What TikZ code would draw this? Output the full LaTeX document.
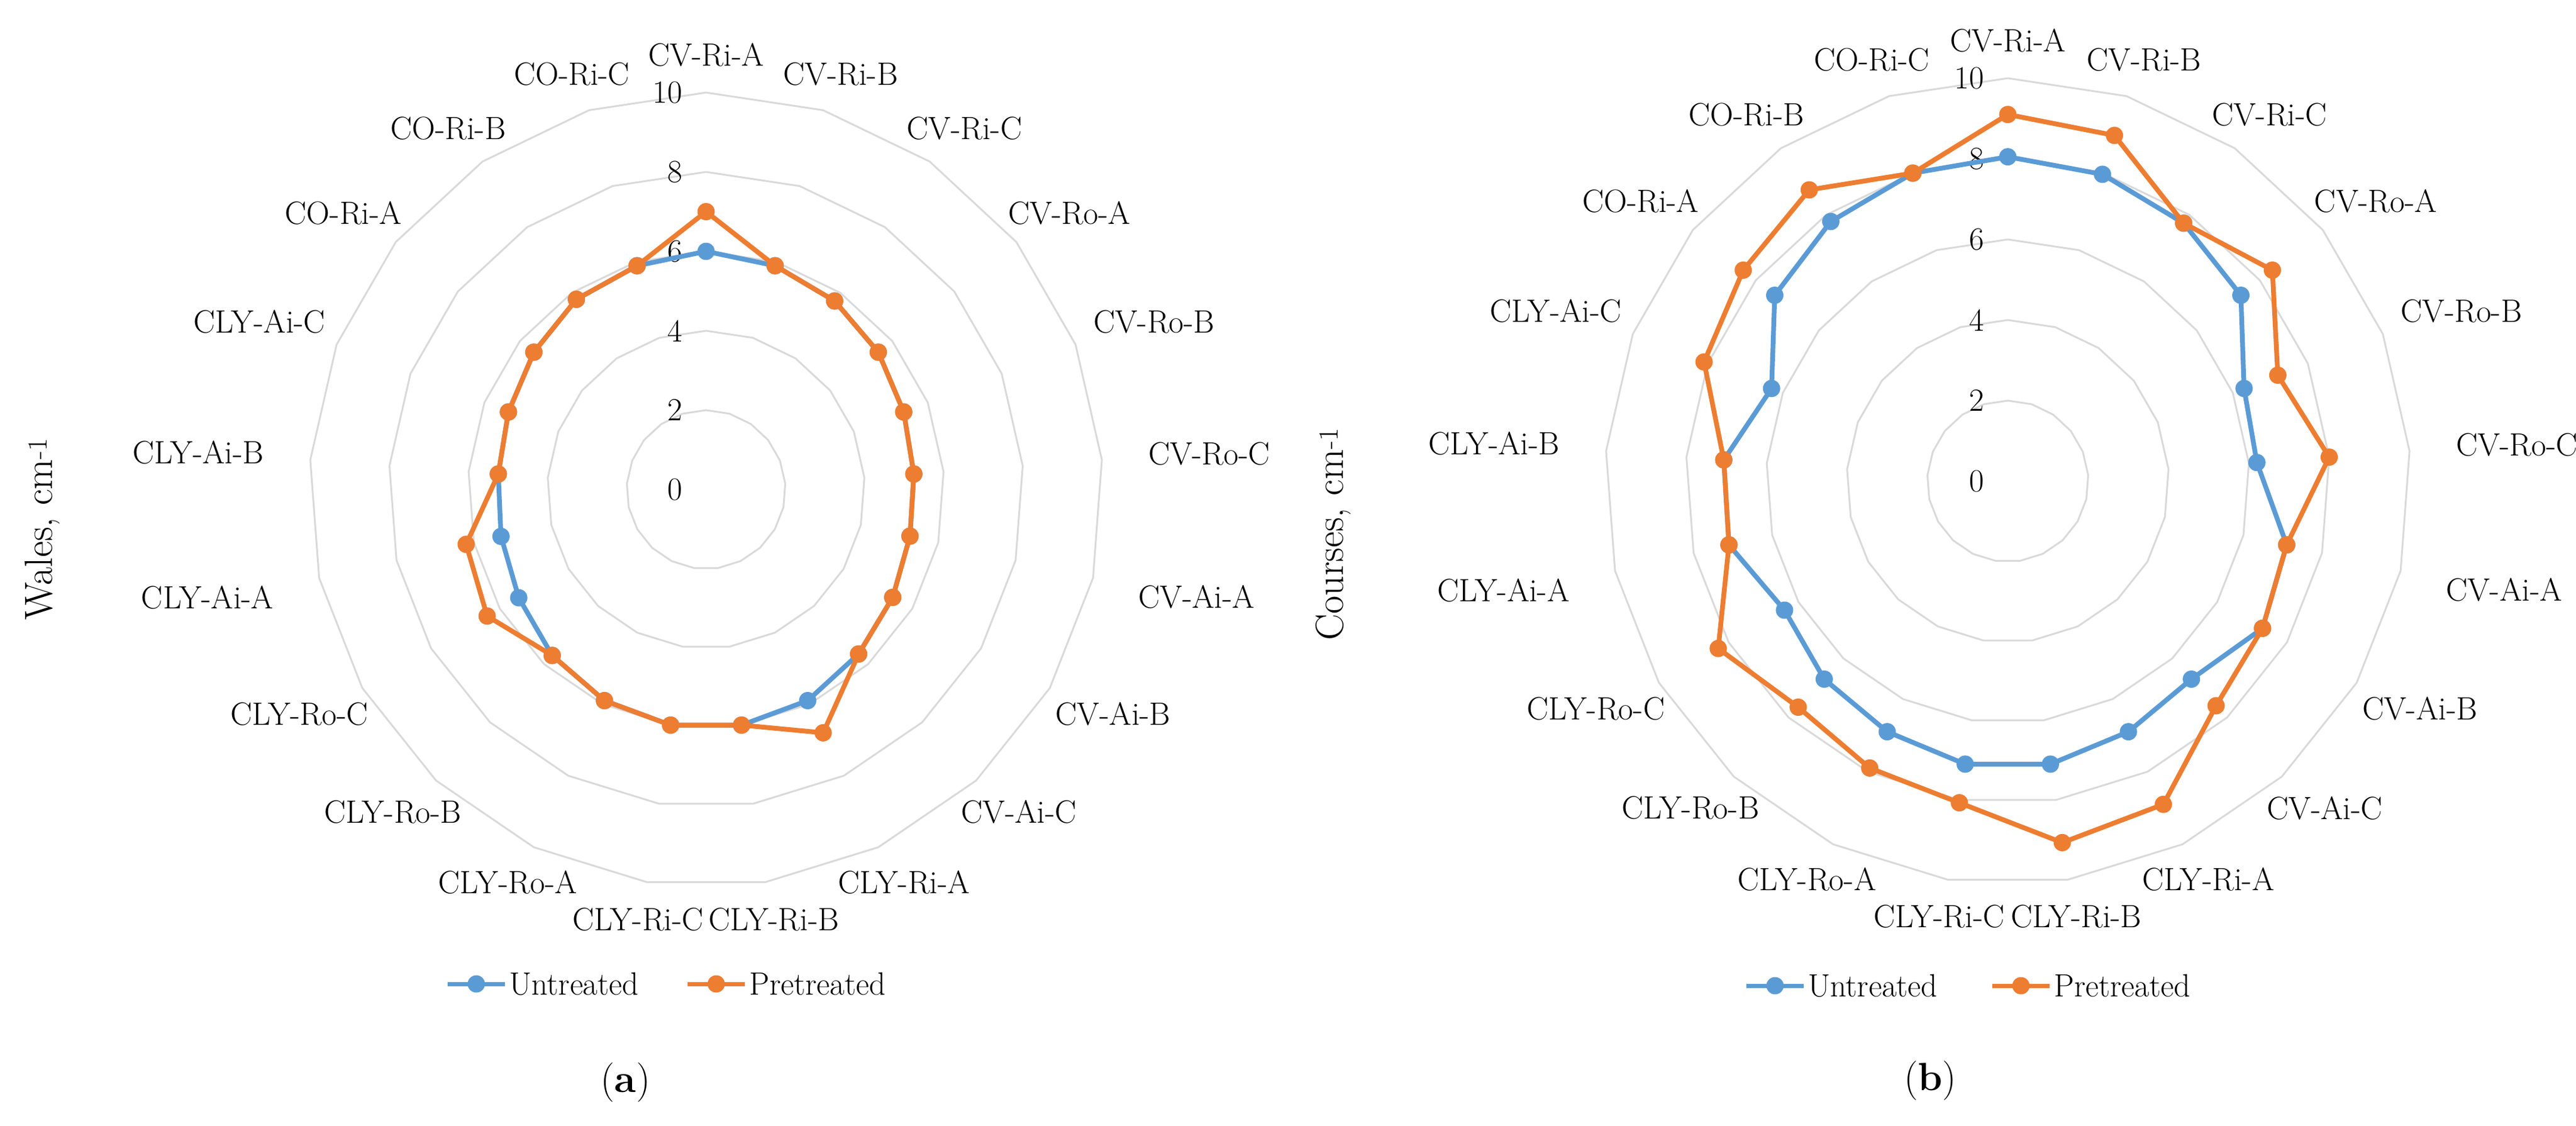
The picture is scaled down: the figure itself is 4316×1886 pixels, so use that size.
\documentclass[tikz,border=0pt]{standalone}
\begin{document}
\definecolor{ublue}{RGB}{91,155,213}
\definecolor{porange}{RGB}{237,125,49}
\definecolor{ringgray}{RGB}{217,217,217}
\def\names{CV-Ri-A,CV-Ri-B,CV-Ri-C,CV-Ro-A,CV-Ro-B,CV-Ro-C,CV-Ai-A,CV-Ai-B,CV-Ai-C,CLY-Ri-A,CLY-Ri-B,CLY-Ri-C,CLY-Ro-A,CLY-Ro-B,CLY-Ro-C,CLY-Ai-A,CLY-Ai-B,CLY-Ai-C,CO-Ri-A,CO-Ri-B,CO-Ri-C}
\tikzset{
  ring/.style={draw=ringgray,line width=3pt,line join=round},
  ser/.style={line width=8pt,line join=round},
  mk/.style={circle,inner sep=0pt,minimum size=29pt},
  axlab/.style={font=\fontsize{54}{64}\selectfont,inner sep=5pt},
  ticklab/.style={font=\fontsize{54}{64}\selectfont,inner sep=0pt,anchor=east},
  ttl/.style={font=\fontsize{66}{78}\selectfont,rotate=90},
  leg/.style={font=\fontsize{54}{64}\selectfont,anchor=west,inner sep=0pt},
  subcap/.style={font=\fontsize{66}{78}\selectfont}
}
\newcommand\myradar[6]{%
\begin{scope}[shift={(#2,-#3)}]
  \foreach \v in {2,4,...,10}{
    \draw[ring] (90:{\v*#4}) \foreach \k in {1,...,20}{ -- ({90-\k*360/21}:{\v*#4})} -- cycle;
  }
  \foreach \v in {0,2,...,10}{ \node[ticklab] (#1-t\v) at (-40,{\v*#4}) {\v}; }
  \foreach \n [count=\i from 0] in \names {
    \pgfmathsetmacro\ang{90-\i*360/21}
    \pgfmathsetmacro\anc{mod(\ang+540,360)}
    \pgfmathsetmacro\dx{35*cos(\ang)}
    \node[axlab,anchor=\anc] (#1-l\i) at ($(\ang:{10*#4+38})+(\dx,0)$) {\n};
  }
  \foreach \d [count=\i from 0] in {#5}{ \coordinate (#1-u\i) at ({90-\i*360/21}:{\d*#4}); }
  \foreach \d [count=\i from 0] in {#6}{ \coordinate (#1-p\i) at ({90-\i*360/21}:{\d*#4}); }
  \draw[ser,ublue] (#1-u0) \foreach \i in {1,...,20}{ -- (#1-u\i)} -- cycle;
  \foreach \i in {0,...,20}{ \node[mk,fill=ublue] (#1-um\i) at (#1-u\i) {}; }
  \draw[ser,porange] (#1-p0) \foreach \i in {1,...,20}{ -- (#1-p\i)} -- cycle;
  \foreach \i in {0,...,20}{ \node[mk,fill=porange] (#1-pm\i) at (#1-p\i) {}; }
\end{scope}}
\newcommand\mylegend[5]{%
  \coordinate (#1-lu1) at ({#2-48},-#5); \coordinate (#1-lu2) at ({#2+48},-#5);
  \draw[line width=7pt,ublue] (#1-lu1) -- (#1-lu2);
  \node[mk,fill=ublue] (#1-lum) at (#2,-#5) {};
  \node[leg] (#1-lut) at ({#2+55},-#5) {Untreated};
  \coordinate (#1-lp1) at ({#3-48},-#5); \coordinate (#1-lp2) at ({#3+48},-#5);
  \draw[line width=7pt,porange] (#1-lp1) -- (#1-lp2);
  \node[mk,fill=porange] (#1-lpm) at (#3,-#5) {};
  \node[leg] (#1-lpt) at ({#3+55},-#5) {Pretreated};
}
\usetikzlibrary{calc}
\begin{tikzpicture}[x=1pt,y=1pt]
\useasboundingbox[fill=white] (0,0) rectangle (4316,-1886);
\myradar{a}{1183}{820}{66.5}{6.0,5.9,5.75,5.55,5.35,5.25,5.27,5.43,5.65,5.9,6.0,6.0,5.9,5.7,5.45,5.3,5.25,5.35,5.55,5.8,5.9}{7.0,5.9,5.75,5.55,5.35,5.25,5.27,5.43,5.65,6.8,6.0,6.0,5.9,5.7,6.37,6.2,5.25,5.35,5.55,5.8,5.9}
\myradar{b}{3364}{806}{67.5}{8.05,7.97,7.75,7.4,6.3,6.2,7.1,7.3,6.7,6.9,7.1,7.1,6.9,6.7,6.4,7.1,7.07,6.3,7.4,7.8,8.0}{9.1,8.98,7.75,8.4,7.2,8.0,7.1,7.3,7.6,8.9,9.07,8.07,7.9,7.65,8.3,7.1,7.07,8.1,8.4,8.75,8.0}
\node[ttl] (a-title) at (71,-886) {Wales, cm\textsuperscript{-1}};
\node[ttl] (b-title) at (2234,-895) {Courses, cm\textsuperscript{-1}};
\mylegend{a}{798}{1200}{0}{1648}
\mylegend{b}{2974}{3386}{0}{1651}
\node[subcap] (a-cap) at (1048,-1813) {(\textbf{a})};
\node[subcap] (b-cap) at (3234,-1810) {(\textbf{b})};
\end{tikzpicture}
\end{document}
